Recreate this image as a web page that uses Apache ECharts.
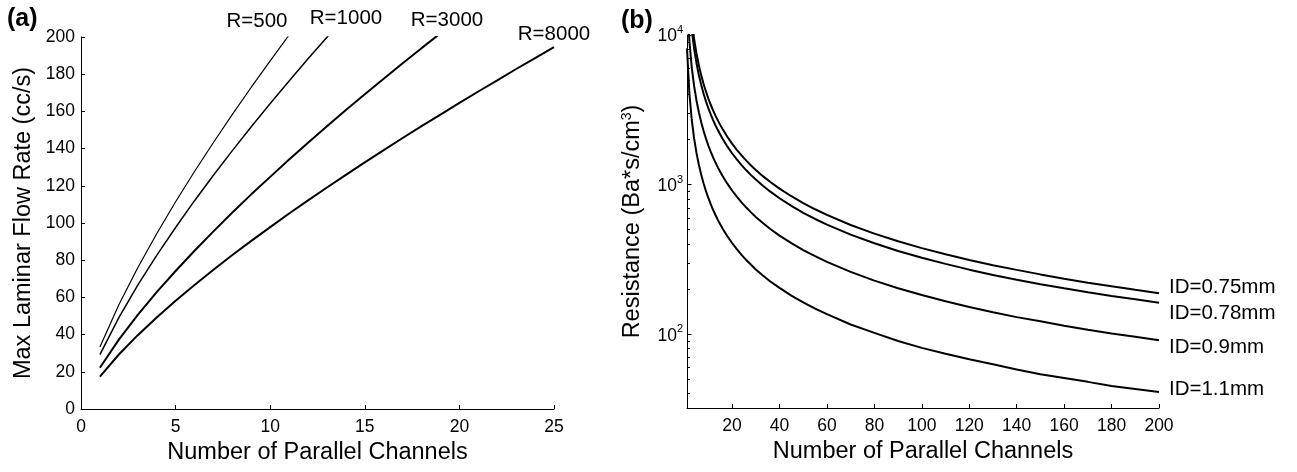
<!DOCTYPE html>
<html>
<head>
<meta charset="utf-8">
<script src="https://cdn.jsdelivr.net/npm/echarts@6/dist/echarts.min.js"></script>
<style>
  html, body { margin: 0; padding: 0; background: #fff; }
  #chart { width: 1297px; height: 472px; }
</style>
</head>
<body>
<div id="chart"></div>
<script>
// ---- (a) Max laminar flow rate (cc/s) vs. number of parallel channels ----
const channelsA = [1,2,3,4,5,6,7,8,9,10,11,12,13,14,15,16,17,18,19,20,21,22,23,24,25];
const flowR500  = [33.3,56.0,75.9,94.2,111.4,127.7,143.3,158.4,173.0,187.2,201.1];
const flowR1000 = [29.2,49.1,66.6,82.6,97.6,112.0,125.7,138.9,151.7,164.2,176.4,188.3,199.9,211.3];
const flowR3000 = [22.2,37.3,50.6,62.8,74.2,85.1,95.5,105.6,115.4,124.8,134.1,143.1,152.0,160.7,169.2,177.6,185.9,194.0,202.0];
const flowR8000 = [17.4,29.3,39.7,49.2,58.2,66.7,74.9,82.8,90.4,97.8,105.1,112.2,119.1,125.9,132.6,139.2,145.7,152.1,158.3,164.6,170.7,176.7,182.8,188.7,194.5];
const namesA = ['R=500', 'R=1000', 'R=3000', 'R=8000'];

// ---- (b) Resistance (Ba*s/cm^3) vs. number of parallel channels ----
const channelsB = [1,2,3,4,5,6,7,8,9,10,11,12,13,14,15,16,18,20,22,24,26,28,30,33,36,40,45,50,55,60,70,80,90,100,110,120,130,140,150,160,170,180,190,200];
const resID075 = [37600,18800,12530,9400,7520,6267,5371,4700,4178,3760,3418,3133,2892,2686,2507,2350,2089,1880,1709,1567,1446,1343,1253,1139,1044,940,836,752,684,627,537,470,418,376,342,313,289,269,251,235,221,209,198,188];
const resID078 = [32400,16200,10800,8100,6480,5400,4629,4050,3600,3240,2945,2700,2492,2314,2160,2025,1800,1620,1473,1350,1246,1157,1080,982,900,810,720,648,589,540,463,405,360,324,295,270,249,231,216,203,191,180,171,162];
const resID090 = [18250,9125,6083,4563,3650,3042,2607,2281,2028,1825,1659,1521,1404,1304,1217,1141,1014,913,830,760,702,652,608,553,507,456,406,365,332,304,261,228,203,183,166,152,140,130,122,114,107,101,96,91];
const resID110 = [8140,4070,2713,2035,1628,1357,1163,1018,904,814,740,678,626,581,543,509,452,407,370,339,313,291,271,247,226,204,181,163,148,136,116,102,90,81,74,68,63,58,54,51,48,45,43,41];
const namesB = ['ID=0.75mm', 'ID=0.78mm', 'ID=0.9mm', 'ID=1.1mm'];

// tick positions
const ticksXB = [20,40,60,80,100,120,140,160,180,200];
const majorYB = [100, 1000, 10000];
const minorYB = [40,50,60,70,80,90,200,300,400,500,600,700,800,900,2000,3000,4000,5000,6000,7000,8000,9000];

const FONT = "'Liberation Sans', Arial, Helvetica, sans-serif";
const BLACK = '#000';

function pairs(xs, ys) { return ys.map((v, i) => [xs[i], v]); }

const axisLineStyle = { show: true, lineStyle: { color: BLACK, width: 1 } };
const labelStyle = { color: BLACK, fontSize: 17.5, fontFamily: FONT };
const titleStyle = { color: BLACK, fontSize: 23.5, fontFamily: FONT };

const GRID_B = { left: 687, top: 35, width: 472, height: 373 };

const chart = echarts.init(document.getElementById('chart'), null, { renderer: 'canvas' });

const option = {
  animation: false,
  backgroundColor: '#fff',
  grid: [
    { left: 81, top: 37, width: 473, height: 372 },
    GRID_B
  ],
  xAxis: [
    {
      gridIndex: 0, type: 'value', min: 0, max: 25, interval: 5,
      axisLine: axisLineStyle,
      axisTick: { show: true, inside: true, length: 4, lineStyle: { color: BLACK } },
      axisLabel: Object.assign({ margin: 9 }, labelStyle),
      splitLine: { show: false },
      name: 'Number of Parallel Channels', nameLocation: 'middle', nameGap: 25,
      nameTextStyle: titleStyle
    },
    {
      gridIndex: 1, type: 'value', min: 1, max: 200,
      axisLine: axisLineStyle,
      axisTick: { show: true, inside: true, length: 4, lineStyle: { color: BLACK }, customValues: ticksXB },
      axisLabel: Object.assign({ margin: 9, customValues: ticksXB }, labelStyle),
      splitLine: { show: false },
      name: 'Number of Parallel Channels', nameLocation: 'middle', nameGap: 25,
      nameTextStyle: titleStyle
    }
  ],
  yAxis: [
    {
      gridIndex: 0, type: 'value', min: 0, max: 200, interval: 20,
      axisLine: axisLineStyle,
      axisTick: { show: true, inside: true, length: 4, lineStyle: { color: BLACK } },
      axisLabel: Object.assign({ margin: 6 }, labelStyle),
      splitLine: { show: false },
      name: 'Max Laminar Flow Rate (cc/s)', nameLocation: 'middle', nameGap: 45,
      nameTextStyle: titleStyle
    },
    {
      gridIndex: 1, type: 'log', logBase: 10, min: 32.1, max: 10000, position: 'left',
      axisLine: axisLineStyle,
      axisTick: { show: true, inside: true, length: 4.5, lineStyle: { color: BLACK }, customValues: majorYB },
      axisLabel: {
        margin: 4, customValues: majorYB,
        formatter: v => '{b|10}{s|' + Math.round(Math.log10(v)) + '}',
        rich: {
          b: { fontSize: 17.5, color: BLACK, fontFamily: FONT, verticalAlign: 'bottom' },
          s: { fontSize: 11, color: BLACK, fontFamily: FONT, verticalAlign: 'bottom', padding: [0, 0, 10, 0] }
        }
      },
      splitLine: { show: false },
      name: 'Resistance (Ba*s/cm{s|3})', nameLocation: 'middle', nameGap: 41,
      nameTextStyle: Object.assign({
        rich: { s: { fontSize: 14, color: BLACK, fontFamily: FONT, padding: [0, 0, 12, 0] } }
      }, titleStyle)
    },
    {
      // minor decade ticks: a right-side axis shifted onto the left edge, ticks pointing into the plot
      gridIndex: 1, type: 'log', logBase: 10, min: 32.1, max: 10000,
      position: 'right', offset: -GRID_B.width,
      axisLine: { show: false },
      axisTick: { show: true, inside: false, length: 3, lineStyle: { color: BLACK }, customValues: minorYB },
      axisLabel: { show: false },
      splitLine: { show: false }
    }
  ],
  series: [
    { name: namesA[0], type: 'line', xAxisIndex: 0, yAxisIndex: 0, data: pairs(channelsA, flowR500),
      showSymbol: false, symbol: 'none', clip: true, lineStyle: { color: BLACK, width: 1.2 } },
    { name: namesA[1], type: 'line', xAxisIndex: 0, yAxisIndex: 0, data: pairs(channelsA, flowR1000),
      showSymbol: false, symbol: 'none', clip: true, lineStyle: { color: BLACK, width: 1.5 } },
    { name: namesA[2], type: 'line', xAxisIndex: 0, yAxisIndex: 0, data: pairs(channelsA, flowR3000),
      showSymbol: false, symbol: 'none', clip: true, lineStyle: { color: BLACK, width: 2 } },
    { name: namesA[3], type: 'line', xAxisIndex: 0, yAxisIndex: 0, data: pairs(channelsA, flowR8000),
      showSymbol: false, symbol: 'none', clip: true, lineStyle: { color: BLACK, width: 2 } }
  ].concat([resID075, resID078, resID090, resID110].map((vals, i) => ({
    name: namesB[i], type: 'line', xAxisIndex: 1, yAxisIndex: 1,
    data: pairs(channelsB, vals),
    showSymbol: false, symbol: 'none', clip: true,
    lineStyle: { color: BLACK, width: 2 },
    endLabel: {
      show: true, formatter: namesB[i], color: BLACK, fontSize: 20.5, fontFamily: FONT,
      distance: 10, offset: [0, [-6, 11, 7, -3][i]]
    }
  }))),
  graphic: [
    { type: 'text', left: 7, top: 7, style: { text: '(a)', fill: BLACK, font: 'bold 25px ' + FONT } },
    { type: 'text', left: 621, top: 9, style: { text: '(b)', fill: BLACK, font: 'bold 25px ' + FONT } },
    { type: 'text', x: 257, y: 21, style: { text: namesA[0], fill: BLACK, font: '20.5px ' + FONT, align: 'center', verticalAlign: 'middle' } },
    { type: 'text', x: 346, y: 18, style: { text: namesA[1], fill: BLACK, font: '20.5px ' + FONT, align: 'center', verticalAlign: 'middle' } },
    { type: 'text', x: 447, y: 20, style: { text: namesA[2], fill: BLACK, font: '20.5px ' + FONT, align: 'center', verticalAlign: 'middle' } },
    { type: 'text', x: 554, y: 34, style: { text: namesA[3], fill: BLACK, font: '20.5px ' + FONT, align: 'center', verticalAlign: 'middle' } }
  ]
};

chart.setOption(option);
</script>
</body>
</html>
